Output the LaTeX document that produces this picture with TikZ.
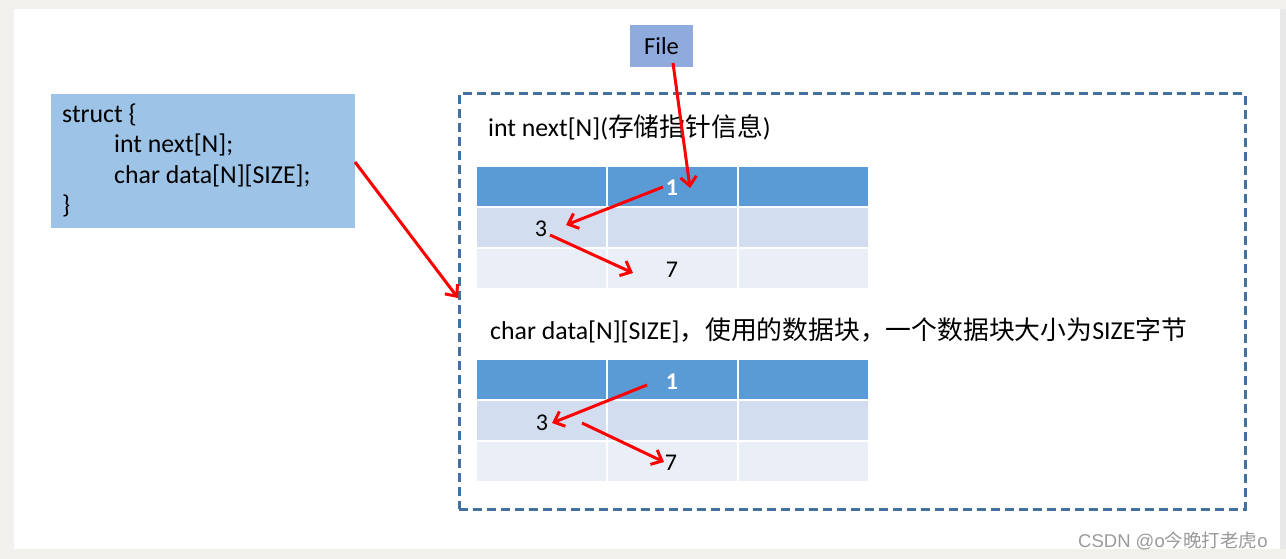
\documentclass[tikz,border=0pt]{standalone}
\usepackage{fontspec}
\setmainfont{Carlito}
\newfontfamily\cjk{Noto Sans CJK SC}
\newfontfamily\wmfont{Liberation Sans}
\usetikzlibrary{arrows.meta}
\definecolor{bggray}{HTML}{F2F0ED}
\definecolor{strip}{HTML}{E8E8E8}
\definecolor{structfill}{HTML}{9DC3E6}
\definecolor{filefill}{HTML}{8FAADC}
\definecolor{framecol}{HTML}{41719C}
\definecolor{hdr}{HTML}{5B9BD5}
\definecolor{rowa}{HTML}{D2DEEF}
\definecolor{rowb}{HTML}{EAEFF7}
\definecolor{arrowred}{HTML}{FF0000}
\definecolor{wmcol}{HTML}{9A9A9A}
\tikzset{
  bigtext/.style={font=\fontsize{25.8}{30}\selectfont, inner sep=0pt},
  numtext/.style={font=\fontsize{24}{28}\selectfont, inner sep=0pt},
  cell/.style={draw=white, line width=2pt, minimum width=131pt, minimum height=41pt, inner sep=0pt},
  redarrow/.style={draw=arrowred, line width=3pt, -{Straight Barb[length=9pt,width=16pt]}},
}
\begin{document}
\begin{tikzpicture}[x=1pt,y=-1pt]
\useasboundingbox (0,0) rectangle (1286,559);
% background
\fill[bggray] (0,0) rectangle (1286,559);
\fill[white] (14,9) rectangle (1280,549);
\fill[strip] (1280,9) rectangle (1286,549);

% struct box
\node[fill=structfill, minimum width=304pt, minimum height=134pt, inner sep=0pt] (sbox) at (203,161) {};
\node[bigtext, anchor=base west] (s1) at (62,123) {struct \{};
\node[bigtext, anchor=base west] (s2) at (114,153) {int next[N];};
\node[bigtext, anchor=base west] (s3) at (114,183) {char data[N][SIZE];};
\node[bigtext, anchor=base west] (s4) at (62,213) {\}};

% File box
\node[fill=filefill, minimum width=63pt, minimum height=42pt, inner sep=0pt, font=\fontsize{24.5}{28}\selectfont] (fbox) at (661.5,46) {File};

% dashed frame
\node[draw=framecol, line width=3pt, dash pattern=on 9pt off 5pt, minimum width=786pt, minimum height=415pt, inner sep=0pt] (frame) at (852,301.5) {};

% titles
\node[bigtext, anchor=base west] (t1) at (488,137) {int next[N]({\cjk 存储指针信息})};
\node[bigtext, anchor=base west] (t2) at (490,339) {char data[N][SIZE]{\cjk ，使用的数据块，一个数据块大小为}SIZE{\cjk 字节}};

% tables
\foreach \t/\yo in {1/0,2/193}{
  \foreach \c in {1,2,3}{
    \node[cell, fill=hdr] (c\t-1-\c) at ({541.5+131*(\c-1)},{186.5+\yo}) {};
    \node[cell, fill=rowa] (c\t-2-\c) at ({541.5+131*(\c-1)},{227.5+\yo}) {};
    \node[cell, fill=rowb] (c\t-3-\c) at ({541.5+131*(\c-1)},{268.5+\yo}) {};
  }
}

% numbers
\node[numtext, text=white, font=\fontsize{24}{28}\selectfont\bfseries] (n11) at (672,188) {1};
\node[numtext] (n13) at (541,229) {3};
\node[numtext] (n17) at (672,270) {7};
\node[numtext, text=white, font=\fontsize{24}{28}\selectfont\bfseries] (n21) at (672,382) {1};
\node[numtext] (n23) at (542,423) {3};
\node[numtext] (n27) at (671,463) {7};

% arrow end points
\coordinate (sA) at (355,162);
\coordinate (fA) at (458,298);
\coordinate (fileS) at (673,63);
\coordinate (fileE) at (690,188);
\coordinate (a1s) at (663,187);
\coordinate (a1e) at (566,225);
\coordinate (a2s) at (550,235);
\coordinate (a2e) at (633,273);
\coordinate (b1s) at (647,385);
\coordinate (b1e) at (552,423);
\coordinate (b2s) at (582,423);
\coordinate (b2e) at (664,462);

\draw[redarrow] (sA) -- (fA);
\draw[redarrow] (fileS) -- (fileE);
\draw[redarrow] (a1s) -- (a1e);
\draw[redarrow] (a2s) -- (a2e);
\draw[redarrow] (b1s) -- (b1e);
\draw[redarrow] (b2s) -- (b2e);

% watermark
\node[anchor=base west, inner sep=0pt, text=wmcol, font=\fontsize{18.5}{20}\wmfont] (wm) at (1078,547) {CSDN @o{\cjk 今晚打老虎}o};
\end{tikzpicture}
\end{document}
